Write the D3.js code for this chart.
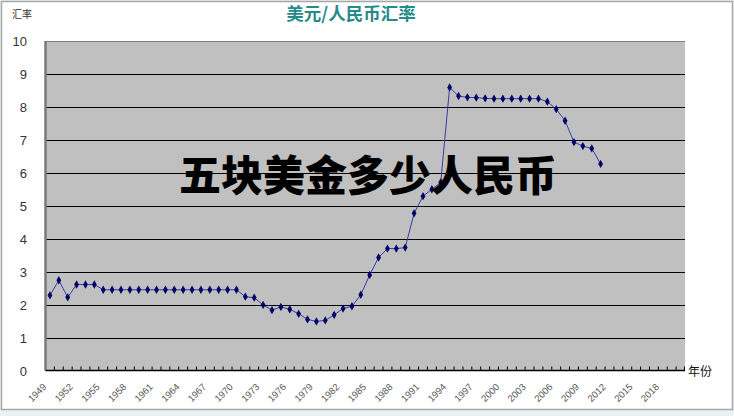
<!DOCTYPE html>
<html lang="zh">
<head>
<meta charset="UTF-8">
<title>美元/人民币汇率</title>
<script src="https://d3js.org/d3.v7.min.js"></script>
<style>
    body {
        margin: 0;
        background: #eaf3f3;
        overflow: hidden;
    }
    svg { display: block; }
    .ytick { font-family: 'Liberation Sans', Arial, sans-serif; font-size: 13px; fill: #333; }
    .xtick { font-family: 'Liberation Sans', Arial, sans-serif; font-size: 9.5px; fill: #555; }
    .cjk { font-family: 'Noto Sans CJK SC', sans-serif; }
</style>
</head>
<body>
<svg id="chart" width="734" height="416"></svg>
<script>
// 年份 (类别轴 1949–2020)
const years = d3.range(1949, 2021);

// 汇率 1949–2011
const rates = [
    2.28, 2.74, 2.22, 2.61, 2.61, 2.61, 2.45, 2.45, 2.45, 2.45,
    2.45, 2.45, 2.45, 2.45, 2.45, 2.45, 2.45, 2.45, 2.45, 2.45,
    2.45, 2.45, 2.24, 2.21, 1.99, 1.83, 1.93, 1.86, 1.72, 1.55,
    1.49, 1.52, 1.69, 1.88, 1.95, 2.30, 2.90, 3.43, 3.70, 3.70,
    3.73, 4.77, 5.29, 5.50, 5.71, 8.59, 8.33, 8.29, 8.28, 8.26,
    8.25, 8.25, 8.25, 8.25, 8.25, 8.25, 8.16, 7.93, 7.58, 6.93,
    6.81, 6.74, 6.27
];

// 横轴标签: 每三年一个
const tickYears = d3.range(1949, 2019, 3);
const yTicks = d3.range(0, 11);

const svg = d3.select("#chart");

// 图表外框
svg.append("rect")
    .attr("x", 1.5).attr("y", 1.5)
    .attr("width", 731).attr("height", 408)
    .attr("fill", "#fff")
    .attr("stroke", "#a8a8a8")
    .attr("stroke-width", 1.5);

const plot = { left: 45.5, right: 685, top: 41, bottom: 370.5 };

const x = d3.scaleBand()
    .domain(years)
    .range([plot.left, plot.right]);

const y = d3.scaleLinear()
    .domain([0, 10])
    .range([plot.bottom, plot.top]);

// 绘图区背景
svg.append("rect")
    .attr("x", plot.left).attr("y", plot.top)
    .attr("width", plot.right - plot.left)
    .attr("height", plot.bottom - plot.top)
    .attr("fill", "#c0c0c0");

// 网格线
svg.append("g")
    .selectAll("line")
    .data(yTicks.filter(d => d > 0))
    .join("line")
    .attr("x1", plot.left).attr("x2", plot.right)
    .attr("y1", d => Math.round(y(d)) + 0.5)
    .attr("y2", d => Math.round(y(d)) + 0.5)
    .attr("stroke", d => d === 10 ? "#808080" : "#000")
    .attr("stroke-width", 1);

// 纵轴
svg.append("line")
    .attr("x1", plot.left).attr("x2", plot.left)
    .attr("y1", plot.top).attr("y2", plot.bottom)
    .attr("stroke", "#7a7a7a")
    .attr("stroke-width", 2.5);

svg.append("g")
    .selectAll("text")
    .data(yTicks)
    .join("text")
    .attr("class", "ytick")
    .attr("x", 27)
    .attr("y", d => y(d) + 5)
    .attr("text-anchor", "end")
    .text(d => d);

// 横轴
const xAxis = svg.append("g");
xAxis.append("line")
    .attr("x1", plot.left).attr("x2", plot.right)
    .attr("y1", plot.bottom).attr("y2", plot.bottom)
    .attr("stroke", "#000")
    .attr("stroke-width", 1.5);

xAxis.selectAll("line.tk")
    .data(years.slice(1).concat([null]))
    .join("line")
    .attr("class", "tk")
    .attr("x1", d => d === null ? plot.right - 0.5 : x(d))
    .attr("x2", d => d === null ? plot.right - 0.5 : x(d))
    .attr("y1", plot.bottom)
    .attr("y2", plot.bottom - 4)
    .attr("stroke", "#000")
    .attr("stroke-width", 1);

xAxis.selectAll("text")
    .data(tickYears)
    .join("text")
    .attr("class", "xtick")
    .attr("text-anchor", "end")
    .attr("transform", d => `translate(${x(d) + x.bandwidth() / 2 - 3},${plot.bottom + 17}) rotate(-45)`)
    .text(d => d);

// 折线
const pts = rates.map((v, i) => ({ year: years[i], value: v }));
const line = d3.line()
    .x(d => x(d.year) + x.bandwidth() / 2)
    .y(d => y(d.value));

svg.append("path")
    .datum(pts)
    .attr("d", line)
    .attr("fill", "none")
    .attr("stroke", "#3a3aa8")
    .attr("stroke-width", 1);

svg.append("g")
    .selectAll("path")
    .data(pts)
    .join("path")
    .attr("d", d3.symbol(d3.symbolDiamond, 20))
    .attr("transform", d => `translate(${x(d.year) + x.bandwidth() / 2},${y(d.value)})`)
    .attr("fill", "#000066");

// 标题与轴名
svg.append("text")
    .attr("class", "cjk")
    .attr("x", 351).attr("y", 20)
    .attr("text-anchor", "middle")
    .attr("font-size", 17.5)
    .attr("font-weight", 700)
    .attr("fill", "#268a8a")
    .text("美元/人民币汇率");

svg.append("text")
    .attr("class", "cjk")
    .attr("x", 12).attr("y", 18)
    .attr("font-size", 10)
    .attr("fill", "#333")
    .text("汇率");

svg.append("text")
    .attr("class", "cjk")
    .attr("x", 688).attr("y", 376)
    .attr("font-size", 12)
    .attr("fill", "#111")
    .text("年份");

// 叠加大字
svg.append("text")
    .attr("class", "cjk")
    .attr("x", 179).attr("y", 191)
    .attr("font-size", 42)
    .attr("font-weight", 900)
    .attr("fill", "#000")
    .text("五块美金多少人民币");
</script>
</body>
</html>
